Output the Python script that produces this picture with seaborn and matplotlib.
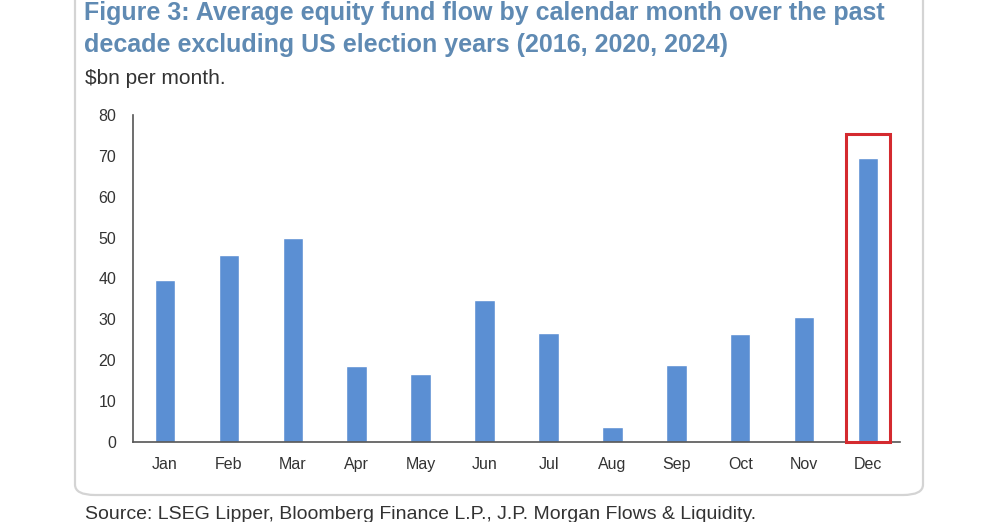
import matplotlib
matplotlib.use("Agg")
import matplotlib.pyplot as plt
import matplotlib.patches as mpatches
import pandas as pd
import seaborn as sns

# Data ($bn per month)
months = ["Jan", "Feb", "Mar", "Apr", "May", "Jun",
          "Jul", "Aug", "Sep", "Oct", "Nov", "Dec"]
flows = [39.6, 45.7, 49.9, 18.7, 16.7, 34.7, 26.7, 3.7, 18.8, 26.5, 30.6, 69.6]
y_ticks = [0, 10, 20, 30, 40, 50, 60, 70, 80]
highlight_month = "Dec"
highlight_top = 75.3

df = pd.DataFrame({"Month": months, "Flow": flows})

sns.set_style("white")
plt.rcParams["font.family"] = ["Liberation Sans", "DejaVu Sans"]

fig = plt.figure(figsize=(9.99, 5.22), dpi=100)
fig.patch.set_facecolor("white")

# card border behind the chart
card = mpatches.FancyBboxPatch((75 / 999, 27 / 522), 848 / 999, 0.99,
                               boxstyle="round,pad=0,rounding_size=0.02",
                               transform=fig.transFigure, facecolor="none",
                               edgecolor="#d4d4d4", lw=1.6, zorder=-1)
fig.patches.append(card)

ax = fig.add_axes([133 / 999, 80 / 522, 767 / 999, 327 / 522])
ax.set_facecolor("none")

sns.barplot(data=df, x="Month", y="Flow", color="#5b8fd3", saturation=1,
            width=0.32, ax=ax)

ax.set_xlim(-0.5, 11.5)
ax.set_ylim(0, 80)
ax.set_yticks(y_ticks)
ax.set_xlabel("")
ax.set_ylabel("")
sns.despine(ax=ax)
for side in ["left", "bottom"]:
    ax.spines[side].set_color("#555555")
    ax.spines[side].set_linewidth(1.2)

# x ticks sit between categories
ax.set_xticks([i - 0.5 for i in range(13)], minor=True)
ax.tick_params(axis="x", which="major", length=0, pad=11, labelsize=11.5,
               labelcolor="#333333")
ax.tick_params(axis="x", which="minor", length=4, width=1.2, color="#555555",
               direction="out")
ax.tick_params(axis="y", length=4, width=1.2, color="#555555", pad=8,
               labelsize=11.5, labelcolor="#333333")

# red box round December
i = months.index(highlight_month)
rect = mpatches.Rectangle((i - 0.35, 0), 0.69, highlight_top, fill=False,
                          edgecolor="#d42a2f", lw=2.2, clip_on=False, zorder=5)
ax.add_patch(rect)

fig.text(84 / 999, 1 - 20 / 522,
         "Figure 3: Average equity fund flow by calendar month over the past",
         fontsize=18, fontweight="bold", color="#5f8ab3")
fig.text(84 / 999, 1 - 52 / 522,
         "decade excluding US election years (2016, 2020, 2024)",
         fontsize=18, fontweight="bold", color="#5f8ab3")
fig.text(85 / 999, 1 - 84 / 522, "$bn per month.", fontsize=15,
         color="#333333")
fig.text(85 / 999, 1 - 519 / 522,
         "Source: LSEG Lipper, Bloomberg Finance L.P., J.P. Morgan Flows & Liquidity.",
         fontsize=14, color="#333333")

fig.savefig("out.png", dpi=100, facecolor="white")
